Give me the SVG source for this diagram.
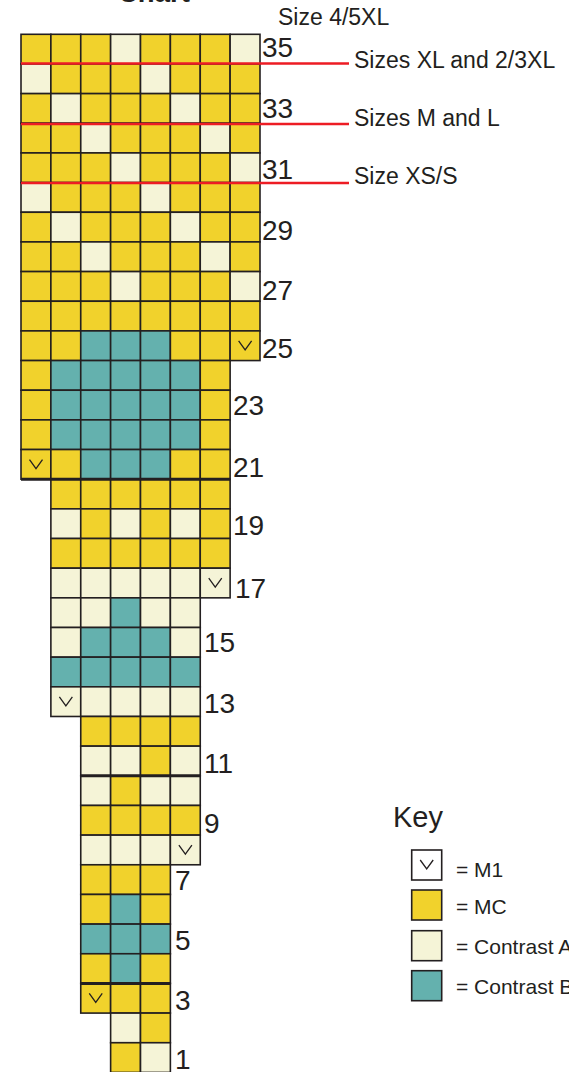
<svg xmlns="http://www.w3.org/2000/svg" xmlns:xlink="http://www.w3.org/1999/xlink" width="569" height="1072" viewBox="0 0 569 1072">
<style>
.Y{fill:#f1d22c}
.A{fill:#f5f4d7}
.B{fill:#64b1ae}
.W{fill:#ffffff}
use.c,rect.k{stroke:#231f20;stroke-width:1.6}
.m1{fill:none;stroke:#231f20;stroke-width:1.3}
.t{font-family:"Liberation Sans",Arial,sans-serif;fill:#231f20}
.num{font-size:28px}
.lbl{font-size:23px}
.key{font-size:21px}
.red{stroke:#ed1c24;stroke-width:2.7;fill:none}
.thick{stroke:#231f20;stroke-width:3;fill:none}
</style>
<defs>
<rect id="cell" width="29.875" height="29.66"/>
<path id="m1" class="m1" d="M8.5 10 L15 19 L21.5 10"/>
</defs>
<text class="t" x="118" y="1.5" font-size="27.5" font-weight="bold">Chart</text>
<g id="chart">
<g id="r35" transform="translate(0,34.3)"><use href="#cell" class="c Y" x="21"/><use href="#cell" class="c Y" x="50.875"/><use href="#cell" class="c Y" x="80.75"/><use href="#cell" class="c A" x="110.625"/><use href="#cell" class="c Y" x="140.5"/><use href="#cell" class="c Y" x="170.375"/><use href="#cell" class="c Y" x="200.25"/><use href="#cell" class="c A" x="230.125"/></g>
<g id="r34" transform="translate(0,63.96)"><use href="#cell" class="c A" x="21"/><use href="#cell" class="c Y" x="50.875"/><use href="#cell" class="c Y" x="80.75"/><use href="#cell" class="c Y" x="110.625"/><use href="#cell" class="c A" x="140.5"/><use href="#cell" class="c Y" x="170.375"/><use href="#cell" class="c Y" x="200.25"/><use href="#cell" class="c Y" x="230.125"/></g>
<g id="r33" transform="translate(0,93.62)"><use href="#cell" class="c Y" x="21"/><use href="#cell" class="c A" x="50.875"/><use href="#cell" class="c Y" x="80.75"/><use href="#cell" class="c Y" x="110.625"/><use href="#cell" class="c Y" x="140.5"/><use href="#cell" class="c A" x="170.375"/><use href="#cell" class="c Y" x="200.25"/><use href="#cell" class="c Y" x="230.125"/></g>
<g id="r32" transform="translate(0,123.28)"><use href="#cell" class="c Y" x="21"/><use href="#cell" class="c Y" x="50.875"/><use href="#cell" class="c A" x="80.75"/><use href="#cell" class="c Y" x="110.625"/><use href="#cell" class="c Y" x="140.5"/><use href="#cell" class="c Y" x="170.375"/><use href="#cell" class="c A" x="200.25"/><use href="#cell" class="c Y" x="230.125"/></g>
<g id="r31" transform="translate(0,152.94)"><use href="#cell" class="c Y" x="21"/><use href="#cell" class="c Y" x="50.875"/><use href="#cell" class="c Y" x="80.75"/><use href="#cell" class="c A" x="110.625"/><use href="#cell" class="c Y" x="140.5"/><use href="#cell" class="c Y" x="170.375"/><use href="#cell" class="c Y" x="200.25"/><use href="#cell" class="c A" x="230.125"/></g>
<g id="r30" transform="translate(0,182.6)"><use href="#cell" class="c A" x="21"/><use href="#cell" class="c Y" x="50.875"/><use href="#cell" class="c Y" x="80.75"/><use href="#cell" class="c Y" x="110.625"/><use href="#cell" class="c A" x="140.5"/><use href="#cell" class="c Y" x="170.375"/><use href="#cell" class="c Y" x="200.25"/><use href="#cell" class="c Y" x="230.125"/></g>
<g id="r29" transform="translate(0,212.26)"><use href="#cell" class="c Y" x="21"/><use href="#cell" class="c A" x="50.875"/><use href="#cell" class="c Y" x="80.75"/><use href="#cell" class="c Y" x="110.625"/><use href="#cell" class="c Y" x="140.5"/><use href="#cell" class="c A" x="170.375"/><use href="#cell" class="c Y" x="200.25"/><use href="#cell" class="c Y" x="230.125"/></g>
<g id="r28" transform="translate(0,241.92)"><use href="#cell" class="c Y" x="21"/><use href="#cell" class="c Y" x="50.875"/><use href="#cell" class="c A" x="80.75"/><use href="#cell" class="c Y" x="110.625"/><use href="#cell" class="c Y" x="140.5"/><use href="#cell" class="c Y" x="170.375"/><use href="#cell" class="c A" x="200.25"/><use href="#cell" class="c Y" x="230.125"/></g>
<g id="r27" transform="translate(0,271.58)"><use href="#cell" class="c Y" x="21"/><use href="#cell" class="c Y" x="50.875"/><use href="#cell" class="c Y" x="80.75"/><use href="#cell" class="c A" x="110.625"/><use href="#cell" class="c Y" x="140.5"/><use href="#cell" class="c Y" x="170.375"/><use href="#cell" class="c Y" x="200.25"/><use href="#cell" class="c A" x="230.125"/></g>
<g id="r26" transform="translate(0,301.24)"><use href="#cell" class="c Y" x="21"/><use href="#cell" class="c Y" x="50.875"/><use href="#cell" class="c Y" x="80.75"/><use href="#cell" class="c Y" x="110.625"/><use href="#cell" class="c Y" x="140.5"/><use href="#cell" class="c Y" x="170.375"/><use href="#cell" class="c Y" x="200.25"/><use href="#cell" class="c Y" x="230.125"/></g>
<g id="r25" transform="translate(0,330.9)"><use href="#cell" class="c Y" x="21"/><use href="#cell" class="c Y" x="50.875"/><use href="#cell" class="c B" x="80.75"/><use href="#cell" class="c B" x="110.625"/><use href="#cell" class="c B" x="140.5"/><use href="#cell" class="c Y" x="170.375"/><use href="#cell" class="c Y" x="200.25"/><use href="#cell" class="c Y" x="230.125"/><use href="#m1" x="230.125"/></g>
<g id="r24" transform="translate(0,360.56)"><use href="#cell" class="c Y" x="21"/><use href="#cell" class="c B" x="50.875"/><use href="#cell" class="c B" x="80.75"/><use href="#cell" class="c B" x="110.625"/><use href="#cell" class="c B" x="140.5"/><use href="#cell" class="c B" x="170.375"/><use href="#cell" class="c Y" x="200.25"/></g>
<g id="r23" transform="translate(0,390.22)"><use href="#cell" class="c Y" x="21"/><use href="#cell" class="c B" x="50.875"/><use href="#cell" class="c B" x="80.75"/><use href="#cell" class="c B" x="110.625"/><use href="#cell" class="c B" x="140.5"/><use href="#cell" class="c B" x="170.375"/><use href="#cell" class="c Y" x="200.25"/></g>
<g id="r22" transform="translate(0,419.88)"><use href="#cell" class="c Y" x="21"/><use href="#cell" class="c B" x="50.875"/><use href="#cell" class="c B" x="80.75"/><use href="#cell" class="c B" x="110.625"/><use href="#cell" class="c B" x="140.5"/><use href="#cell" class="c B" x="170.375"/><use href="#cell" class="c Y" x="200.25"/></g>
<g id="r21" transform="translate(0,449.54)"><use href="#cell" class="c Y" x="21"/><use href="#cell" class="c Y" x="50.875"/><use href="#cell" class="c B" x="80.75"/><use href="#cell" class="c B" x="110.625"/><use href="#cell" class="c B" x="140.5"/><use href="#cell" class="c Y" x="170.375"/><use href="#cell" class="c Y" x="200.25"/><use href="#m1" x="21"/></g>
<g id="r20" transform="translate(0,479.2)"><use href="#cell" class="c Y" x="50.875"/><use href="#cell" class="c Y" x="80.75"/><use href="#cell" class="c Y" x="110.625"/><use href="#cell" class="c Y" x="140.5"/><use href="#cell" class="c Y" x="170.375"/><use href="#cell" class="c Y" x="200.25"/></g>
<g id="r19" transform="translate(0,508.86)"><use href="#cell" class="c A" x="50.875"/><use href="#cell" class="c Y" x="80.75"/><use href="#cell" class="c A" x="110.625"/><use href="#cell" class="c Y" x="140.5"/><use href="#cell" class="c A" x="170.375"/><use href="#cell" class="c Y" x="200.25"/></g>
<g id="r18" transform="translate(0,538.52)"><use href="#cell" class="c Y" x="50.875"/><use href="#cell" class="c Y" x="80.75"/><use href="#cell" class="c Y" x="110.625"/><use href="#cell" class="c Y" x="140.5"/><use href="#cell" class="c Y" x="170.375"/><use href="#cell" class="c Y" x="200.25"/></g>
<g id="r17" transform="translate(0,568.18)"><use href="#cell" class="c A" x="50.875"/><use href="#cell" class="c A" x="80.75"/><use href="#cell" class="c A" x="110.625"/><use href="#cell" class="c A" x="140.5"/><use href="#cell" class="c A" x="170.375"/><use href="#cell" class="c A" x="200.25"/><use href="#m1" x="200.25"/></g>
<g id="r16" transform="translate(0,597.84)"><use href="#cell" class="c A" x="50.875"/><use href="#cell" class="c A" x="80.75"/><use href="#cell" class="c B" x="110.625"/><use href="#cell" class="c A" x="140.5"/><use href="#cell" class="c A" x="170.375"/></g>
<g id="r15" transform="translate(0,627.5)"><use href="#cell" class="c A" x="50.875"/><use href="#cell" class="c B" x="80.75"/><use href="#cell" class="c B" x="110.625"/><use href="#cell" class="c B" x="140.5"/><use href="#cell" class="c A" x="170.375"/></g>
<g id="r14" transform="translate(0,657.16)"><use href="#cell" class="c B" x="50.875"/><use href="#cell" class="c B" x="80.75"/><use href="#cell" class="c B" x="110.625"/><use href="#cell" class="c B" x="140.5"/><use href="#cell" class="c B" x="170.375"/></g>
<g id="r13" transform="translate(0,686.82)"><use href="#cell" class="c A" x="50.875"/><use href="#cell" class="c A" x="80.75"/><use href="#cell" class="c A" x="110.625"/><use href="#cell" class="c A" x="140.5"/><use href="#cell" class="c A" x="170.375"/><use href="#m1" x="50.875"/></g>
<g id="r12" transform="translate(0,716.48)"><use href="#cell" class="c Y" x="80.75"/><use href="#cell" class="c Y" x="110.625"/><use href="#cell" class="c Y" x="140.5"/><use href="#cell" class="c Y" x="170.375"/></g>
<g id="r11" transform="translate(0,746.14)"><use href="#cell" class="c A" x="80.75"/><use href="#cell" class="c A" x="110.625"/><use href="#cell" class="c Y" x="140.5"/><use href="#cell" class="c A" x="170.375"/></g>
<g id="r10" transform="translate(0,775.8)"><use href="#cell" class="c A" x="80.75"/><use href="#cell" class="c Y" x="110.625"/><use href="#cell" class="c A" x="140.5"/><use href="#cell" class="c A" x="170.375"/></g>
<g id="r9" transform="translate(0,805.46)"><use href="#cell" class="c Y" x="80.75"/><use href="#cell" class="c Y" x="110.625"/><use href="#cell" class="c Y" x="140.5"/><use href="#cell" class="c Y" x="170.375"/></g>
<g id="r8" transform="translate(0,835.12)"><use href="#cell" class="c A" x="80.75"/><use href="#cell" class="c A" x="110.625"/><use href="#cell" class="c A" x="140.5"/><use href="#cell" class="c A" x="170.375"/><use href="#m1" x="170.375"/></g>
<g id="r7" transform="translate(0,864.78)"><use href="#cell" class="c Y" x="80.75"/><use href="#cell" class="c Y" x="110.625"/><use href="#cell" class="c Y" x="140.5"/></g>
<g id="r6" transform="translate(0,894.44)"><use href="#cell" class="c Y" x="80.75"/><use href="#cell" class="c B" x="110.625"/><use href="#cell" class="c Y" x="140.5"/></g>
<g id="r5" transform="translate(0,924.1)"><use href="#cell" class="c B" x="80.75"/><use href="#cell" class="c B" x="110.625"/><use href="#cell" class="c B" x="140.5"/></g>
<g id="r4" transform="translate(0,953.76)"><use href="#cell" class="c Y" x="80.75"/><use href="#cell" class="c B" x="110.625"/><use href="#cell" class="c Y" x="140.5"/></g>
<g id="r3" transform="translate(0,983.42)"><use href="#cell" class="c Y" x="80.75"/><use href="#cell" class="c Y" x="110.625"/><use href="#cell" class="c Y" x="140.5"/><use href="#m1" x="80.75"/></g>
<g id="r2" transform="translate(0,1013.08)"><use href="#cell" class="c A" x="110.625"/><use href="#cell" class="c Y" x="140.5"/></g>
<g id="r1" transform="translate(0,1042.74)"><use href="#cell" class="c Y" x="110.625"/><use href="#cell" class="c A" x="140.5"/></g>
<path class="thick" d="M21 479.2 H230.125 M80.75 775.8 H200.25 M80.75 983.42 H170.375"/>
</g>
<g id="row-numbers" class="t num">
<text x="262" y="57">35</text>
<text x="262" y="118">33</text>
<text x="262" y="179">31</text>
<text x="262" y="240">29</text>
<text x="262" y="300">27</text>
<text x="262" y="358">25</text>
<text x="233" y="415">23</text>
<text x="233" y="476.5">21</text>
<text x="233" y="535">19</text>
<text x="235" y="598">17</text>
<text x="204" y="652">15</text>
<text x="204" y="713">13</text>
<text x="204" y="773">11</text>
<text x="204" y="833">9</text>
<text x="175" y="890">7</text>
<text x="175" y="950">5</text>
<text x="175" y="1010">3</text>
<text x="175" y="1069">1</text>
</g>
<g id="connectors">
<path class="red" d="M21 63.5 H349 M21 124 H349 M21 183 H349"/>
</g>
<g id="size-labels" class="t lbl">
<text x="278" y="25">Size 4/5XL</text>
<text x="354" y="68">Sizes XL and 2/3XL</text>
<text x="354" y="126">Sizes M and L</text>
<text x="354" y="184">Size XS/S</text>
</g>
<g id="key">
<text class="t" x="393" y="827" font-size="29">Key</text>
<g id="key-m1"><rect class="k W" x="411.7" y="850" width="30" height="30"/><use href="#m1" x="411.7" y="850"/><text class="t key" x="456" y="877">= M1</text></g>
<g id="key-mc"><rect class="k Y" x="411.7" y="890" width="30" height="30"/><text class="t key" x="456" y="914">= MC</text></g>
<g id="key-a"><rect class="k A" x="411.7" y="930.7" width="30" height="30"/><text class="t key" x="456" y="954">= Contrast A</text></g>
<g id="key-b"><rect class="k B" x="411.7" y="970.7" width="30" height="30"/><text class="t key" x="456" y="994">= Contrast B</text></g>
</g>
</svg>
